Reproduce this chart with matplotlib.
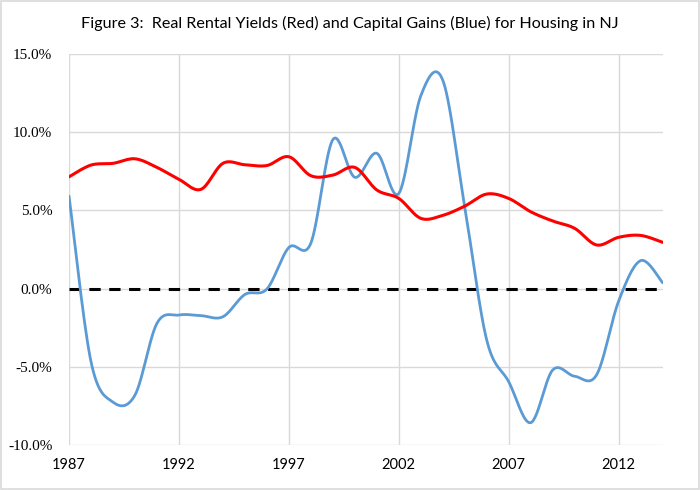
import matplotlib
matplotlib.use("Agg")
import matplotlib.pyplot as plt
import numpy as np
from matplotlib.patches import Rectangle

years = list(range(1987, 2015))

# real rental yields (%), red
rental_yield = [7.13, 7.88, 7.99, 8.28, 7.73, 6.97, 6.33, 7.99, 7.90, 7.85,
                8.41, 7.20, 7.24, 7.73, 6.29, 5.75, 4.48, 4.67, 5.26, 6.03,
                5.75, 4.90, 4.31, 3.84, 2.78, 3.27, 3.39, 2.95]

# real capital gains (%), blue
capital_gain = [5.9, -4.67, -7.25, -6.8, -2.22, -1.69, -1.73, -1.8, -0.38, -0.03,
                2.62, 2.9, 9.5, 7.1, 8.63, 6.07, 12.3, 13.3, 5.2, -3.29,
                -5.95, -8.56, -5.2, -5.6, -5.5, -0.8, 1.78, 0.37]

x_ticks = [1987, 1992, 1997, 2002, 2007, 2012]
y_ticks = [-10, -5, 0, 5, 10, 15]

TITLE = "Figure 3:  Real Rental Yields (Red) and Capital Gains (Blue) for Housing in NJ"


def smooth(x, y, n=30):
    # Excel-like smoothed line (Catmull-Rom through the points)
    x = np.asarray(x, float)
    y = np.asarray(y, float)
    px = np.concatenate([[x[0]], x, [x[-1]]])
    py = np.concatenate([[y[0]], y, [y[-1]]])
    xs, ys = [], []
    t = np.linspace(0, 1, n, endpoint=False)
    for i in range(1, len(px) - 2):
        p0, p1, p2, p3 = py[i - 1], py[i], py[i + 1], py[i + 2]
        q0, q1, q2, q3 = px[i - 1], px[i], px[i + 1], px[i + 2]
        m1 = (p2 - p0) / 2
        m2 = (p3 - p1) / 2
        k1 = (q2 - q0) / 2
        k2 = (q3 - q1) / 2
        h00 = 2 * t**3 - 3 * t**2 + 1
        h10 = t**3 - 2 * t**2 + t
        h01 = -2 * t**3 + 3 * t**2
        h11 = t**3 - t**2
        ys.append(h00 * p1 + h10 * m1 + h01 * p2 + h11 * m2)
        xs.append(h00 * q1 + h10 * k1 + h01 * q2 + h11 * k2)
    xs.append([x[-1]])
    ys.append([y[-1]])
    return np.concatenate(xs), np.concatenate(ys)


fig = plt.figure(figsize=(7, 4.9), dpi=100)
ax = fig.add_axes([0.0986, 0.0914, 0.848, 0.7994])

grid_c = "#d9d9d9"
for yv in y_ticks:
    ax.axhline(yv, color=grid_c, lw=1.0, zorder=0)
for xv in x_ticks:
    ax.axvline(xv, color=grid_c, lw=1.0, zorder=0)

ax.axhline(0, color="black", lw=2.2, dashes=(3.7, 2.8), zorder=1)

bx, by = smooth(years, capital_gain)
ax.plot(bx, by, color="#5b9bd5", lw=2.0, zorder=2, solid_capstyle="round")
rx, ry = smooth(years, rental_yield)
ax.plot(rx, ry, color="#ff0000", lw=2.2, zorder=3, solid_capstyle="round")

ax.set_xlim(1987, 2014)
ax.set_ylim(-10, 15)
ax.set_xticks(x_ticks)
ax.set_xticklabels([str(v) for v in x_ticks], family="Lato", fontsize=10.5)
ax.set_yticks(y_ticks)
ax.set_yticklabels(["%.1f%%" % v for v in y_ticks], family="Liberation Serif", fontsize=11)
ax.tick_params(length=0, pad=9)
ax.tick_params(axis="y", pad=12)
for s in ax.spines.values():
    s.set_visible(False)

fig.text(0.5, 0.953, TITLE, ha="center", va="center", family="Lato", fontsize=11.6)

fig.patches.append(Rectangle((0.002, 0.002), 0.996, 0.996, transform=fig.transFigure,
                             fill=False, edgecolor=grid_c, lw=1.2))

fig.savefig("out.png", dpi=100)
